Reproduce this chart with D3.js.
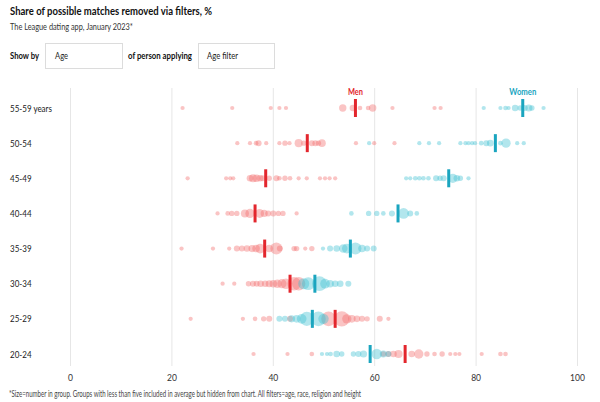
<!DOCTYPE html>
<html><head><meta charset="utf-8">
<script src="https://cdn.jsdelivr.net/npm/d3@7"></script>
<style>
body{margin:0;background:#fff;}
svg text{font-family:Lato,"Open Sans",sans-serif;}
</style></head><body>
<svg id="c" width="600" height="402"></svg>
<script>
const ageGroups = ["55-59 years","50-54","45-49","40-44","35-39","30-34","25-29","20-24"];
const menMeans   = [56.3, 46.8, 38.6, 36.5, 38.4, 43.4, 52.3, 66.1];
const womenMeans = [89.3, 83.9, 74.7, 64.7, 55.3, 48.3, 47.8, 59.2];
const xTicks = [0, 20, 40, 60, 80, 100];
// [value %, number in group]
const menDots = [
  [[22.2,5],[32,5],[39.6,5],[41.3,5],[42.6,5],[53.8,15],[55.8,12],[57.2,6],[58.8,6],[59.7,15],[63.6,5],[71.9,5],[73.1,5]],
  [[33,5],[35.5,5],[36.7,6],[37.2,10],[38.7,5],[41.3,5],[42.4,8],[43.3,5],[45.1,18],[46.1,8],[47.7,10],[48.4,10],[49,8],[49.7,16],[56.4,5],[60,5],[64,5]],
  [[23.2,5],[30.8,5],[31.6,5],[32.2,5],[35.5,12],[36.1,18],[36.8,16],[37.5,12],[38,10],[39.3,8],[40.7,10],[41.3,6],[42.4,8],[43.4,6],[45.1,5],[46.7,5],[49.3,5],[50.3,5],[51.2,5],[52.3,5]],
  [[29.1,5],[31.1,6],[31.9,8],[32.9,8],[34.5,18],[35.5,24],[37.4,22],[38.3,14],[39.1,10],[40.1,10],[41.1,8],[42,8],[44.7,5]],
  [[22,5],[28.2,5],[31.4,5],[32.9,10],[33.9,10],[34.9,12],[35.9,14],[36.7,16],[37.5,26],[39.3,16],[40.7,40],[41.4,10],[44.2,8],[44.7,8],[46.4,5],[47.7,8]],
  [[30.1,5],[32.4,5],[35.2,8],[36.1,10],[36.8,10],[37.6,12],[38.5,12],[39.3,14],[40.1,16],[40.9,20],[41.8,24],[42.6,30],[44.2,50],[45.1,50]],
  [[23.8,5],[34.1,5],[36.5,6],[38.2,8],[39.3,10],[43.4,10],[51,60],[53.6,65],[54.6,24],[55.6,16],[56.6,12],[57.6,10],[58.6,8],[61.1,10],[62.8,5]],
  [[36.2,5],[42.9,5],[47.7,6],[61.8,8],[62.8,10],[63.8,12],[64.8,18],[67.4,12],[68.8,24],[70.4,8],[71.9,6],[73.4,8],[75,5],[76,5],[76.8,5],[81.2,5],[84.9,6],[85.9,6]]
];
const womenDots = [
  [[81.6,5],[84.9,5],[85.9,6],[86.5,5],[87.8,12],[88.8,8],[89.7,10],[90.5,14],[91.1,8],[93.4,5]],
  [[59,5],[68.9,5],[70.8,5],[72.8,5],[77,5],[78,5],[78.6,5],[79.3,5],[79.9,5],[81.1,6],[82.1,10],[82.9,12],[84.9,6],[86,24],[88.2,5],[89.5,5]],
  [[66.3,5],[67.1,5],[68.1,6],[68.9,6],[69.7,6],[70.7,6],[72.2,10],[73,8],[73.7,10],[75.5,24],[76.3,12],[77,8],[78.6,5]],
  [[55.5,6],[58.9,8],[60.5,8],[61.8,6],[63.5,10],[65.8,32],[67.1,10],[68.4,6]],
  [[49.9,5],[51.3,10],[52.6,12],[53.9,20],[54.6,26],[56.3,40],[57.6,16],[58.6,10],[59.9,10]],
  [[46.1,34],[47,45],[49.2,60],[50.3,26],[51.3,16],[52.3,12],[53.3,12],[54.9,10]],
  [[41.3,10],[42.4,10],[43.7,14],[44.7,16],[45.7,26],[46.7,55],[49,60],[50,30]],
  [[49.7,5],[50.7,5],[51.4,6],[52.6,12],[53.6,8],[55.9,8],[56.9,10],[57.9,14],[60.5,30],[61.8,14],[62.8,10]]
];

const menBar = "#e3262d", menDot = "#f26b6b";
const womenBar = "#1aa5bf", womenDot = "#3fc0d2";

const svg = d3.select("#c");
const x = d3.scaleLinear().domain([0,100]).range([70,577]);
const y = d3.scalePoint().domain(ageGroups).range([108,354]);
const r = d3.scaleSqrt().domain([0,100]).range([0,9.5]);

// squeeze text horizontally to imitate the condensed house font
function squeeze(sel, f){
  sel.each(function(){
    const w = this.getComputedTextLength();
    d3.select(this).attr("textLength", w*f).attr("lengthAdjust","spacingAndGlyphs");
  });
}
function fit(sel, w){ sel.attr("textLength", w).attr("lengthAdjust","spacingAndGlyphs"); }

fit(svg.append("text").attr("x",10).attr("y",15).text("Share of possible matches removed via filters, %")
  .attr("font-size",12).attr("font-weight",700).attr("fill","#111"), 202);
fit(svg.append("text").attr("x",10).attr("y",30).text("The League dating app, January 2023*")
  .attr("font-size",10).attr("fill","#333"), 123);
fit(svg.append("text").attr("x",10).attr("y",58.5).text("Show by").attr("font-size",10).attr("font-weight",700).attr("fill","#111"), 29);
fit(svg.append("text").attr("x",128).attr("y",58.5).text("of person applying").attr("font-size",10).attr("font-weight",700).attr("fill","#111"), 64);
svg.append("rect").attr("x",45.5).attr("y",43.5).attr("width",77).attr("height",25).attr("fill","#fff").attr("stroke","#dcdcdc");
svg.append("rect").attr("x",198.5).attr("y",43.5).attr("width",76).attr("height",25).attr("fill","#fff").attr("stroke","#dcdcdc");
fit(svg.append("text").attr("x",55).attr("y",58.5).text("Age").attr("font-size",10).attr("fill","#222"), 13);
fit(svg.append("text").attr("x",207).attr("y",58.5).text("Age filter").attr("font-size",10).attr("fill","#222"), 31);

// gridlines + axis
const xAxis = d3.axisBottom(x).tickValues(xTicks).tickSize(-(366-88)).tickPadding(8);
const ax = svg.append("g").attr("transform","translate(0,366)").call(xAxis);
ax.select(".domain").remove();
ax.selectAll(".tick line").attr("stroke","#e6e6e6");
ax.selectAll(".tick text").attr("font-size",10).attr("fill","#333").attr("font-family","Lato,sans-serif");
squeeze(ax.selectAll(".tick text"), 0.85);

// row labels
const rl = svg.append("g").selectAll("text").data(ageGroups).join("text")
  .attr("x",10).attr("y",d=>y(d)).attr("dy","0.35em").text(d=>d)
  .attr("font-size",10).attr("fill","#222");
squeeze(rl, 0.8);

function drawDots(data, color){
  const g = svg.append("g");
  data.forEach((row,i)=>{
    g.append("g").selectAll("circle").data(row).join("circle")
      .attr("cx",d=>x(d[0])).attr("cy",y(ageGroups[i])).attr("r",d=>r(d[1]))
      .attr("fill",color).attr("fill-opacity",0.4);
  });
}
drawDots(menDots, menDot);
drawDots(womenDots, womenDot);

function drawBars(means, color){
  svg.append("g").selectAll("rect").data(means).join("rect")
    .attr("x",d=>x(d)-1.5).attr("width",3)
    .attr("y",(d,i)=>y(ageGroups[i])-9).attr("height",18).attr("fill",color);
}
drawBars(menMeans, menBar);
drawBars(womenMeans, womenBar);

fit(svg.append("text").attr("x",x(menMeans[0])).attr("y",94.5).attr("text-anchor","middle").text("Men")
  .attr("font-size",10).attr("font-weight",700).attr("fill",menBar), 15);
fit(svg.append("text").attr("x",x(womenMeans[0])).attr("y",94.5).attr("text-anchor","middle").text("Women")
  .attr("font-size",10).attr("font-weight",700).attr("fill",womenBar), 27);

fit(svg.append("text").attr("x",9).attr("y",397)
  .text("*Size=number in group. Groups with less than five included in average but hidden from chart. All filters=age, race, religion and height")
  .attr("font-size",8.5).attr("fill","#444"), 352);
</script></body></html>
